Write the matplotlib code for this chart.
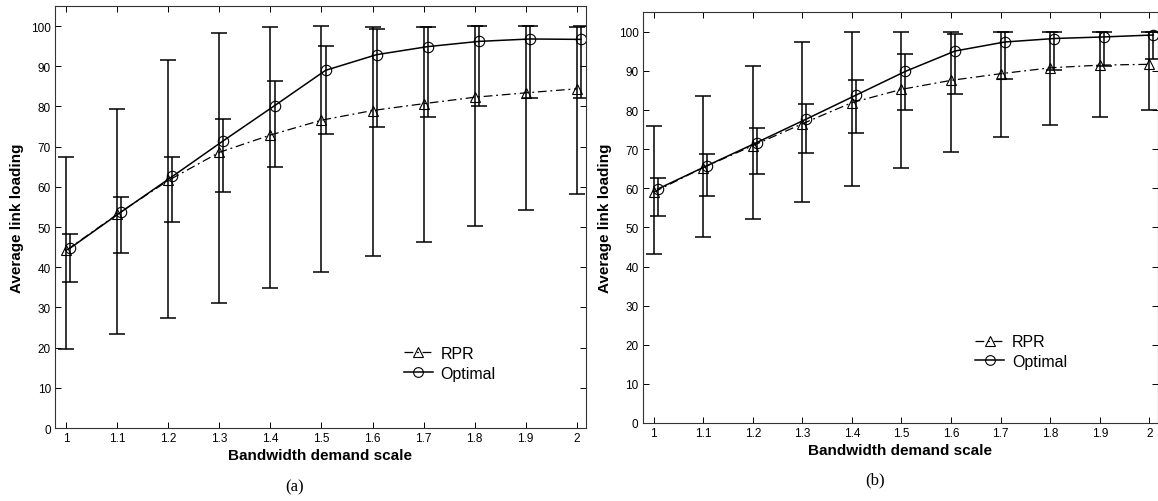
import matplotlib
matplotlib.use("Agg")
import matplotlib.pyplot as plt
import numpy as np

plt.rcParams["font.family"] = ["Liberation Sans", "DejaVu Sans"]

scale = [1.0, 1.1, 1.2, 1.3, 1.4, 1.5, 1.6, 1.7, 1.8, 1.9, 2.0]
x_ticks = [1, 1.1, 1.2, 1.3, 1.4, 1.5, 1.6, 1.7, 1.8, 1.9, 2]
x_tick_labels = ["1", "1.1", "1.2", "1.3", "1.4", "1.5", "1.6", "1.7", "1.8", "1.9", "2"]
y_ticks = [0, 10, 20, 30, 40, 50, 60, 70, 80, 90, 100]

# panel (a)
rpr_a = [44.2, 53.2, 61.6, 68.6, 72.9, 76.6, 79.0, 80.7, 82.3, 83.4, 84.4]
rpr_a_hi = [67.5, 79.5, 91.5, 98.4, 99.8, 100.0, 99.7, 99.7, 100.0, 100.0, 99.8]
rpr_a_lo = [19.6, 23.4, 27.4, 31.1, 34.9, 38.9, 42.7, 46.4, 50.3, 54.3, 58.2]
opt_a = [44.8, 53.8, 62.6, 71.5, 80.2, 89.0, 92.9, 94.9, 96.2, 96.8, 96.7]
opt_a_hi = [48.2, 57.6, 67.4, 76.9, 86.4, 95.1, 99.3, 99.7, 100.0, 100.0, 100.0]
opt_a_lo = [36.4, 43.5, 51.2, 58.8, 65.0, 73.1, 75.0, 77.4, 80.2, 82.0, 82.0]

# panel (b)
rpr_b = [59.0, 65.3, 70.9, 76.5, 81.9, 85.3, 87.6, 89.3, 90.8, 91.5, 91.7]
rpr_b_hi = [76.0, 83.6, 91.3, 97.3, 100.0, 100.0, 100.0, 100.0, 100.0, 100.0, 100.0]
rpr_b_lo = [43.2, 47.6, 52.1, 56.4, 60.6, 65.1, 69.3, 73.2, 76.2, 78.3, 80.0]
opt_b = [59.8, 65.8, 71.7, 77.7, 83.8, 89.9, 95.1, 97.4, 98.3, 98.7, 99.2]
opt_b_hi = [62.6, 68.9, 75.5, 81.6, 87.7, 94.3, 99.4, 100.0, 100.0, 100.0, 100.0]
opt_b_lo = [53.0, 58.1, 63.6, 69.0, 74.1, 80.0, 84.2, 87.9, 90.2, 91.3, 93.0]


def draw_panel(ax, rpr, rpr_hi, rpr_lo, opt, opt_hi, opt_lo, legend_xy):
    x = np.array(scale)
    x_opt = x + 0.008
    rpr = np.array(rpr)
    opt = np.array(opt)
    rpr_err = [rpr - np.array(rpr_lo), np.array(rpr_hi) - rpr]
    opt_err = [opt - np.array(opt_lo), np.array(opt_hi) - opt]

    ax.errorbar(x, rpr, yerr=rpr_err, fmt="none", ecolor="black",
                elinewidth=1.1, capsize=6, capthick=1.1)
    ax.errorbar(x_opt, opt, yerr=opt_err, fmt="none", ecolor="black",
                elinewidth=1.1, capsize=6, capthick=1.1)
    ax.plot(x, rpr, color="black", linestyle=(0, (7, 3, 1.5, 3)), linewidth=0.9,
            marker="^", markersize=7.5, markerfacecolor="none",
            markeredgewidth=0.8, label="RPR")
    ax.plot(x_opt, opt, color="black", linestyle="-", linewidth=1.1,
            marker="o", markersize=7.5, markerfacecolor="none",
            markeredgewidth=0.8, label="Optimal")

    ax.set_xlim(0.978, 2.018)
    ax.set_ylim(0, 105)
    ax.set_xticks(x_ticks)
    ax.set_xticklabels(x_tick_labels)
    ax.set_yticks(y_ticks)
    ax.tick_params(direction="in", top=True, right=True, labelsize=8.5,
                   length=4, width=0.7, pad=3)
    for s in ax.spines.values():
        s.set_linewidth(0.8)
        s.set_color("#333333")
    ax.set_xlabel("Bandwidth demand scale", fontsize=11, fontweight="bold",
                  labelpad=3)
    ax.set_ylabel("Average link loading", fontsize=11, fontweight="bold",
                  labelpad=5)
    leg = ax.legend(loc="center left", bbox_to_anchor=legend_xy, frameon=False,
                    fontsize=11.5, handlelength=1.8, handletextpad=0.5,
                    labelspacing=0.3, borderpad=0)
    for h in leg.legend_handles:
        h.set_markersize(7)


fig = plt.figure(figsize=(11.58, 5.02), dpi=100)
ax_a = fig.add_axes([0.0475, 0.1454, 0.4585, 0.8406])
ax_b = fig.add_axes([0.555, 0.1554, 0.4452, 0.8181])

draw_panel(ax_a, rpr_a, rpr_a_hi, rpr_a_lo, opt_a, opt_a_hi, opt_a_lo,
           (0.642, 0.153))
draw_panel(ax_b, rpr_b, rpr_b_hi, rpr_b_lo, opt_b, opt_b_hi, opt_b_lo,
           (0.63, 0.174))

fig.text(0.254, 0.03, "(a)", ha="center", va="center", fontsize=12,
         family=["Liberation Serif", "DejaVu Serif"])
fig.text(0.7555, 0.043, "(b)", ha="center", va="center", fontsize=12,
         family=["Liberation Serif", "DejaVu Serif"])

fig.savefig("out.png", dpi=100)
